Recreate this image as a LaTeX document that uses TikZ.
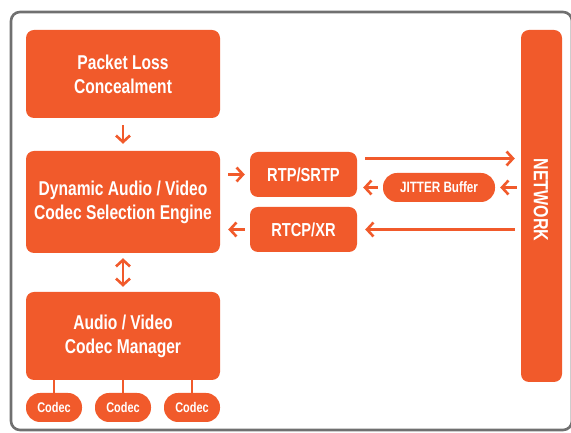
\documentclass[tikz,border=0pt]{standalone}
\usepackage{fontspec}
\setmainfont{Liberation Sans}[FakeStretch=0.78]
\usetikzlibrary{arrows.meta,positioning}
\definecolor{codecorange}{HTML}{F15A2B}
\definecolor{framegray}{HTML}{707070}
\begin{document}
\begin{tikzpicture}[x=1pt, y=1pt]
        \tikzset{block/.style={rectangle, fill=codecorange, rounded corners=8pt, text=white, align=center, inner sep=0pt, font=\bfseries\fontsize{20}{24}\selectfont},
                 pill/.style={block, rounded corners=14pt, font=\bfseries\fontsize{14}{16}\selectfont},
                 flow/.style={draw=codecorange, line width=2.6pt, -{Straight Barb[length=6.5pt, width=14pt, line width=2.6pt]}},
                 stub/.style={draw=codecorange, line width=2.6pt}}
        \useasboundingbox (0,0) rectangle (571,433);
        \draw[framegray, line width=2.6pt, rounded corners=9pt] (11,3) rectangle (572,421);
        % left column
        \node[block, minimum width=194pt, minimum height=88pt] (plc) at (123,359) {Packet Loss\\Concealment};
        \node[block, minimum width=194pt, minimum height=102pt] (engine) at (123,231) {Dynamic Audio / Video\\Codec Selection Engine};
        \node[block, minimum width=194pt, minimum height=88pt] (manager) at (123,97) {Audio / Video\\Codec Manager};
        \node[pill, minimum width=56pt, minimum height=29pt] (codecA) at (54,25.5) {Codec};
        \node[pill, minimum width=56pt, minimum height=29pt] (codecB) at (123,25.5) {Codec};
        \node[pill, minimum width=56pt, minimum height=29pt] (codecC) at (192,25.5) {Codec};
        % middle
        \node[block, minimum width=107pt, minimum height=45pt, font=\bfseries\fontsize{18.8}{20}\selectfont] (rtp) at (303.5,258.5) {RTP/SRTP};
        \node[block, minimum width=107pt, minimum height=45pt, font=\bfseries\fontsize{18.8}{20}\selectfont] (rtcp) at (303.5,203.5) {RTCP/XR};
        \node[pill, minimum width=112pt, minimum height=29pt, font=\bfseries\fontsize{15}{16}\selectfont] (jitter) at (439,245.5) {JITTER Buffer};
        % right
        \node[block, minimum width=41pt, minimum height=352pt] (network) at (541.5,227) {};
        \node[text=white, font=\bfseries\fontsize{20.5}{22}\selectfont, rotate=-90] (nettext) at (541,233) {NETWORK};
        \coordinate (rtpout) at ([yshift=16pt]rtp.east);
        % connectors
        \draw[flow, shorten <=7pt, shorten >=7pt] (plc) -- (engine);
        \draw[flow, {Straight Barb[length=6.5pt, width=14pt, line width=2.6pt]}-{Straight Barb[length=6.5pt, width=14pt, line width=2.6pt]}, shorten <=5pt, shorten >=5pt] (engine) -- (manager);
        \draw[flow, shorten <=8pt, shorten >=5pt] (engine.east |- rtp) -- (rtp.west);
        \draw[flow, shorten <=5pt, shorten >=8pt] (rtcp.west) -- (engine.east |- rtcp);
        \draw[flow, shorten <=8pt, shorten >=6pt] (rtpout) -- (network.west |- rtpout);
        \draw[flow, shorten <=4pt, shorten >=5pt] (network.west |- jitter) -- (jitter.east);
        \draw[flow, shorten <=5pt, shorten >=6pt] (jitter.west) -- (rtp.east |- jitter);
        \draw[flow, shorten <=6pt, shorten >=8pt] (network.west |- rtcp) -- (rtcp.east);
        \foreach \c in {codecA, codecB, codecC}
            \draw[stub] (manager.south -| \c) -- (\c.north);
\end{tikzpicture}
\end{document}
